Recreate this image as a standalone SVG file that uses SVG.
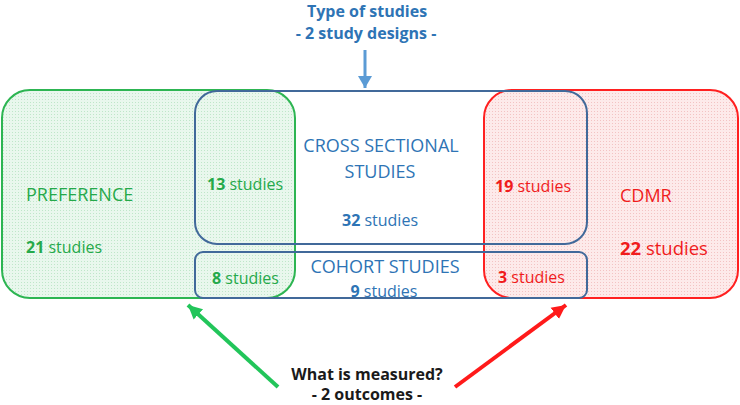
<svg xmlns="http://www.w3.org/2000/svg" width="740" height="405" viewBox="0 0 740 405">
<defs>
<style>
text{font-family:"Open Sans","Liberation Sans",sans-serif;}
.t18{font-size:18px;}
.t16{font-size:16px;}
.b{font-weight:bold;}
.g{fill:#25a94a;}
.r{fill:#f01c1c;}
.bl{fill:#2e74b5;}
.k{fill:#1a1a1a;}
.mid{text-anchor:middle;}
.box{stroke-width:2;}
.conn{fill:none;stroke-width:4;}
</style>
<pattern id="pg" width="3" height="3" patternUnits="userSpaceOnUse">
<rect width="3" height="3" fill="#e9f7ed"/>
<rect width="1" height="1" fill="#bfe6c9"/>
</pattern>
<pattern id="pr" width="3" height="3" patternUnits="userSpaceOnUse">
<rect width="3" height="3" fill="#fdeaea"/>
<rect width="1" height="1" fill="#f3c3c3"/>
</pattern>
<marker id="ab" markerUnits="userSpaceOnUse" markerWidth="14" markerHeight="14" refX="12" refY="7" orient="auto"><path d="M0,0 L12,7 L0,14 Z" fill="#5b9bd5"/></marker>
<marker id="ag" markerUnits="userSpaceOnUse" markerWidth="16" markerHeight="16" refX="14" refY="8" orient="auto"><path d="M0,1 L14,8 L0,15 Z" fill="#22c55a"/></marker>
<marker id="ar" markerUnits="userSpaceOnUse" markerWidth="16" markerHeight="16" refX="14" refY="8" orient="auto"><path d="M0,1 L14,8 L0,15 Z" fill="#ff1a1a"/></marker>
</defs>
<rect width="740" height="405" fill="#ffffff"/>

<g id="preference">
<rect class="box" x="2" y="90" width="293" height="208" rx="28" fill="url(#pg)" stroke="#2db552"/>
<text class="t18 g" x="26" y="201">PREFERENCE</text>
<text class="t16 g" x="26" y="253"><tspan class="b">21</tspan> studies</text>
</g>

<g id="cdmr">
<rect class="box" x="484" y="90" width="254" height="208" rx="28" fill="url(#pr)" stroke="#ff2020"/>
<text class="t18 r" x="620" y="202">CDMR</text>
<text class="r" style="font-size:18.5px" x="620" y="255"><tspan class="b">22</tspan> studies</text>
</g>

<g id="cross-sectional">
<rect class="box" x="195" y="91" width="392" height="153" rx="22" fill="none" stroke="#41699a"/>
<text class="t18 bl mid" x="381" y="152">CROSS SECTIONAL</text>
<text class="t18 bl mid" x="380" y="178">STUDIES</text>
<text class="t16 bl mid" x="380" y="226"><tspan class="b">32</tspan> studies</text>
</g>

<g id="cohort">
<rect class="box" x="195" y="252" width="392" height="46" rx="8" fill="none" stroke="#41699a"/>
<text class="t18 bl mid" x="385" y="273">COHORT STUDIES</text>
<text class="t16 bl mid" x="384" y="297"><tspan class="b">9</tspan> studies</text>
</g>

<g id="pref-cross">
<text class="t16 g" x="207" y="190"><tspan class="b">13</tspan> studies</text>
</g>
<g id="pref-cohort">
<text class="t16 g" x="212" y="284"><tspan class="b">8</tspan> studies</text>
</g>
<g id="cdmr-cross">
<text class="t16 r" x="495" y="192"><tspan class="b">19</tspan> studies</text>
</g>
<g id="cdmr-cohort">
<text class="t16 r" x="498" y="283"><tspan class="b">3</tspan> studies</text>
</g>

<g id="type-of-studies">
<text class="t16 b bl mid" x="367" y="17">Type of studies</text>
<text class="t16 b bl mid" x="366" y="39">- 2 study designs -</text>
</g>

<g id="what-measured">
<text class="t16 b k mid" x="367" y="380">What is measured?</text>
<text class="t16 b k mid" x="367" y="400">- 2 outcomes -</text>
</g>

<g id="connectors">
<line x1="365" y1="50" x2="365" y2="88" stroke="#5b9bd5" stroke-width="3" marker-end="url(#ab)"/>
<line class="conn" x1="278" y1="387" x2="188" y2="305" stroke="#22c55a" marker-end="url(#ag)"/>
<line class="conn" x1="455" y1="387" x2="566" y2="305" stroke="#ff1a1a" marker-end="url(#ar)"/>
</g>
</svg>
